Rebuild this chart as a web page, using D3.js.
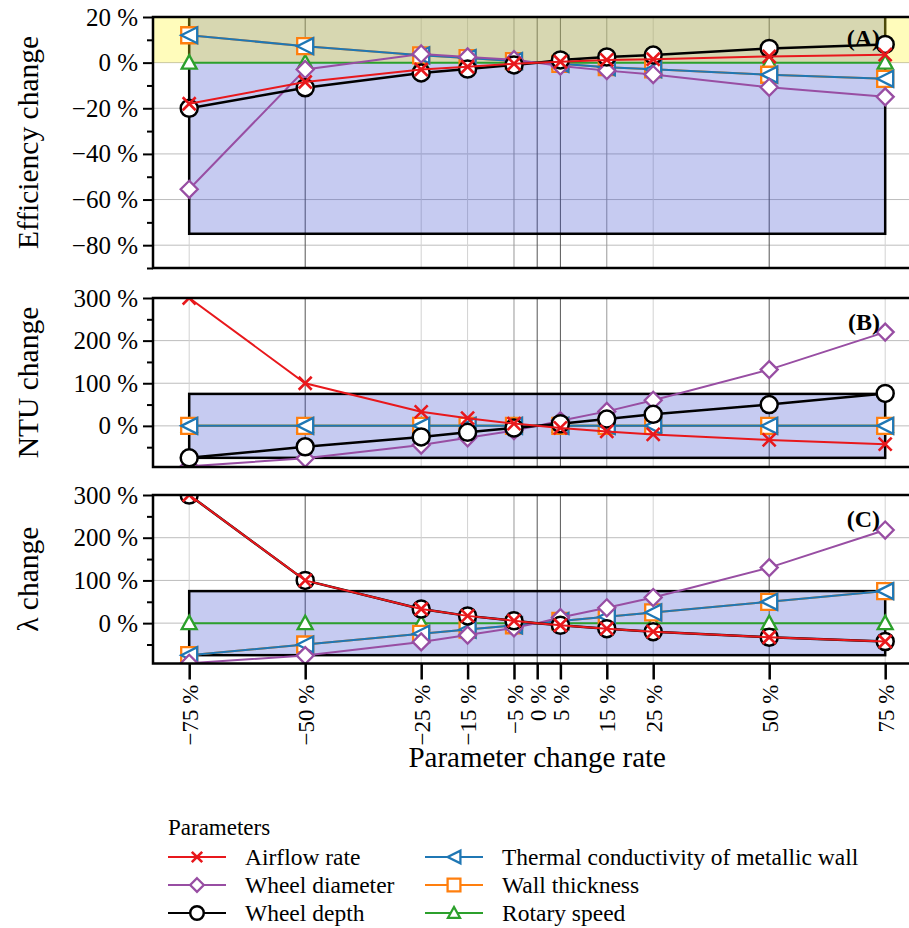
<!DOCTYPE html>
<html>
<head>
<meta charset="utf-8">
<script src="https://cdn.jsdelivr.net/npm/d3@7"></script>
<style>
  body { margin: 0; background: #fff; }
  text { font-family: "Liberation Serif", "DejaVu Serif", serif; fill: #000; }
</style>
</head>
<body>
<svg width="909" height="928"></svg>
<script>
// parameter change rate (%), x positions of all points
const rates = [-75, -50, -25, -15, -5, 0, 5, 15, 25, 50, 75];
const tickRates = [-75, -50, -25, -15, -5, 0, 5, 15, 25, 50, 75];

const seriesNames = ['Airflow rate', 'Wheel diameter', 'Wheel depth',
    'Thermal conductivity of metallic wall', 'Wall thickness', 'Rotary speed'];

// (A) efficiency change, %
const effAirflow  = [-18, -8.5, -3, -1.8, -0.5, 0, 0.4, 1.2, 1.5, 2.7, 3.5];
const effDiameter = [-55.5, -3, 3.8, 2.5, 1.3, 0, -1.5, -3.5, -5.2, -10.8, -15];
const effDepth    = [-20, -11, -4.5, -2.8, -1, 0, 1.2, 2.5, 3.3, 6.2, 8];
const effThermal  = [12, 7.2, 3.2, 2, 0.7, 0, -0.5, -2, -2.9, -5.3, -7.1];
const effWall     = [12, 7.2, 3.2, 2, 0.7, 0, -0.5, -2, -2.9, -5.3, -7.1];
const effRotary   = [0, 0, 0, 0, 0, 0, 0, 0, 0, 0, 0];

// (B) NTU change, %
const ntuAirflow  = [300, 100, 33, 18, 5.3, 0, -4.8, -13, -20, -33, -43];
const ntuDiameter = [-95, -76, -45, -28, -11, 0, 12, 34, 60, 132, 220];
const ntuDepth    = [-75, -49, -26, -15, -5, 0, 5, 16, 27, 50, 76];
const ntuThermal  = [0, 0, 0, 0, 0, 0, 0, 0, 0, 0, 0];
const ntuWall     = [0, 0, 0, 0, 0, 0, 0, 0, 0, 0, 0];
const ntuRotary   = [0, 0, 0, 0, 0, 0, 0, 0, 0, 0, 0];

// (C) lambda change, %
const lamAirflow  = [300, 100, 33, 17, 5.5, 0, -5, -13, -20, -33, -43];
const lamDiameter = [-94, -76, -44, -28, -11, 0, 13, 36, 60, 130, 218];
const lamDepth    = [300, 100, 33, 17, 5.5, 0, -5, -13, -20, -33, -43];
const lamThermal  = [-75, -50, -25, -15, -5, 0, 5, 15, 25, 50, 75];
const lamWall     = [-75, -50, -25, -15, -5, 0, 5, 15, 25, 50, 75];
const lamRotary   = [0, 0, 0, 0, 0, 0, 0, 0, 0, 0, 0];

const effTicks = [-80, -60, -40, -20, 0, 20];
const effMinor = [-90, -70, -50, -30, -10, 10];
const bigTicks = [0, 100, 200, 300];
const bigMinor = [-50, 50, 150, 250];

const styles = {
    'Airflow rate': { color: '#e8181c', marker: 'x' },
    'Wheel diameter': { color: '#984ea3', marker: 'diamond' },
    'Wheel depth': { color: '#000', marker: 'circle' },
    'Thermal conductivity of metallic wall': { color: '#1f77b4', marker: 'left' },
    'Wall thickness': { color: '#ff7f0e', marker: 'square' },
    'Rotary speed': { color: '#2ca02c', marker: 'up' }
};
// back to front
const drawOrder = ['Rotary speed', 'Wall thickness', 'Thermal conductivity of metallic wall',
    'Wheel diameter', 'Wheel depth', 'Airflow rate'];

const panels = [
    { tag: '(A)', label: 'Efficiency change', top: 17, bottom: 268, domain: [-90, 20],
      ticks: effTicks, minor: effMinor, yellow: true,
      values: [effAirflow, effDiameter, effDepth, effThermal, effWall, effRotary] },
    { tag: '(B)', label: 'NTU change', top: 298, bottom: 467, domain: [-96.5, 300],
      ticks: bigTicks, minor: bigMinor, yellow: false,
      values: [ntuAirflow, ntuDiameter, ntuDepth, ntuThermal, ntuWall, ntuRotary] },
    { tag: '(C)', label: 'λ change', top: 495, bottom: 663.5, domain: [-94.5, 300],
      ticks: bigTicks, minor: bigMinor, yellow: false,
      values: [lamAirflow, lamDiameter, lamDepth, lamThermal, lamWall, lamRotary] }
];

const svg = d3.select('svg');
const left = 153;
const xScale = d3.scaleLinear().domain([-82.8, 82.8]).range([left, left + 165.6 * 4.64]);
const right = xScale.range()[1];

const fmt = v => (v < 0 ? '\u2212' + Math.abs(v) : v) + ' %';

const gridTone = v => [-50, 0, 5, 50].includes(v) ? '#555' : ([-5, 15].includes(v) ? '#999' : '#d2d2d2');

const markerPath = (type, s) => {
    switch (type) {
        case 'x': return `M${-s},${-s}L${s},${s}M${-s},${s}L${s},${-s}`;
        case 'diamond': return `M0,${-s}L${s},0L0,${s}L${-s},0Z`;
        case 'left': return `M${-s},0L${s},${-s}L${s},${s}Z`;
        case 'square': return `M${-s},${-s}H${s}V${s}H${-s}Z`;
        case 'up': return `M0,${-s}L${s},${s * 0.8}L${-s},${s * 0.8}Z`;
    }
};

const drawMarker = (g, type, color, k) => {
    if (type === 'circle') {
        g.append('circle').attr('r', 8.5 * k).attr('fill', '#fff')
            .attr('stroke', color).attr('stroke-width', 2.5);
        return;
    }
    const size = { x: 6.5, diamond: 8.5, left: 8, square: 8, up: 7.5 }[type] * k;
    g.append('path').attr('d', markerPath(type, size))
        .attr('fill', type === 'x' ? 'none' : '#fff')
        .attr('stroke', color)
        .attr('stroke-width', type === 'x' ? 2.6 : 2.3);
};

panels.forEach((p, i) => {
    const yScale = d3.scaleLinear().domain(p.domain).range([p.bottom, p.top]);
    const g = svg.append('g');

    g.append('clipPath').attr('id', 'clip' + i)
        .append('rect').attr('x', left).attr('y', p.top)
        .attr('width', right - left).attr('height', p.bottom - p.top);
    const plot = g.append('g').attr('clip-path', `url(#clip${i})`);

    // grid
    plot.selectAll('.hgrid').data(p.ticks).enter().append('line')
        .attr('x1', left).attr('x2', right)
        .attr('y1', d => yScale(d)).attr('y2', d => yScale(d))
        .attr('stroke', '#bdbdbd').attr('stroke-width', 1);
    plot.selectAll('.vgrid').data(tickRates).enter().append('line')
        .attr('x1', d => xScale(d)).attr('x2', d => xScale(d))
        .attr('y1', p.top).attr('y2', p.bottom)
        .attr('stroke', d => gridTone(d)).attr('stroke-width', 1);

    // +-75 % box
    plot.append('rect')
        .attr('x', xScale(-75)).attr('y', yScale(75))
        .attr('width', xScale(75) - xScale(-75)).attr('height', yScale(-75) - yScale(75))
        .attr('fill', 'rgb(50,70,205)').attr('fill-opacity', 0.28)
        .attr('stroke', '#000').attr('stroke-width', 2.5);

    if (p.yellow) {
        plot.append('rect')
            .attr('x', left).attr('y', p.top)
            .attr('width', right - left).attr('height', yScale(0) - p.top)
            .attr('fill', 'rgb(255,245,30)').attr('fill-opacity', 0.3);
    }

    const line = d3.line().x(d => xScale(d[0])).y(d => yScale(d[1]));
    drawOrder.forEach(name => {
        const vals = p.values[seriesNames.indexOf(name)];
        const st = styles[name];
        const pts = rates.map((r, j) => [r, vals[j]]);
        plot.append('path').datum(pts).attr('d', line)
            .attr('fill', 'none').attr('stroke', st.color)
            .attr('stroke-width', name === 'Wheel depth' ? 2.5 : 2);
        pts.filter(d => d[0] !== 0).forEach(d => {
            const m = plot.append('g')
                .attr('transform', `translate(${xScale(d[0])},${yScale(d[1])})`);
            drawMarker(m, st.marker, st.color, 1);
        });
    });

    // frame
    g.append('rect').attr('x', left).attr('y', p.top)
        .attr('width', right - left).attr('height', p.bottom - p.top)
        .attr('fill', 'none').attr('stroke', '#000').attr('stroke-width', 2.5);

    // y axis
    const yAxis = g.append('g').attr('transform', `translate(${left},0)`)
        .call(d3.axisLeft(yScale).tickValues(p.ticks).tickFormat(fmt).tickSize(10).tickPadding(5));
    yAxis.select('.domain').remove();
    yAxis.selectAll('.tick line').attr('stroke-width', 2);
    yAxis.selectAll('.tick text').attr('font-size', 25);
    const yMinor = g.append('g').attr('transform', `translate(${left},0)`)
        .call(d3.axisLeft(yScale).tickValues(p.minor).tickFormat('').tickSize(6));
    yMinor.select('.domain').remove();
    yMinor.selectAll('.tick line').attr('stroke-width', 2);

    g.append('text')
        .attr('transform', `translate(38,${(p.top + p.bottom) / 2}) rotate(-90)`)
        .attr('text-anchor', 'middle').attr('font-size', 29.5)
        .text(p.label);

    g.append('text').attr('x', 880).attr('y', p.top + (i === 0 ? 29 : 32))
        .attr('text-anchor', 'end').attr('font-size', 24).attr('font-weight', 'bold')
        .text(p.tag);

    if (i === panels.length - 1) {
        const xAxis = g.append('g').attr('transform', `translate(0,${p.bottom})`)
            .call(d3.axisBottom(xScale).tickValues(tickRates).tickFormat(fmt).tickSize(16).tickPadding(5));
        xAxis.select('.domain').remove();
        xAxis.selectAll('.tick line').attr('stroke-width', 2.5);
        xAxis.selectAll('.tick text')
            .attr('font-size', 23)
            .attr('transform', 'rotate(-90)')
            .attr('text-anchor', 'end')
            .attr('x', -21).attr('y', 0).attr('dy', '0.35em');
    }
});

svg.append('text').attr('x', xScale(0)).attr('y', 767)
    .attr('text-anchor', 'middle').attr('font-size', 29)
    .text('Parameter change rate');

// legend
const legend = svg.append('g');
legend.append('text').attr('x', 168).attr('y', 835).attr('font-size', 23).text('Parameters');
seriesNames.forEach((name, k) => {
    const col = Math.floor(k / 3), row = k % 3;
    const x0 = col === 0 ? 168 : 425;
    const y0 = 857 + row * 28;
    const st = styles[name];
    const item = legend.append('g');
    item.append('line').attr('x1', x0).attr('x2', x0 + 58).attr('y1', y0).attr('y2', y0)
        .attr('stroke', st.color).attr('stroke-width', 2.2);
    drawMarker(item.append('g').attr('transform', `translate(${x0 + 29},${y0})`), st.marker, st.color, 0.8);
    item.append('text').attr('x', x0 + 77).attr('y', y0 + 8).attr('font-size', 23.5).text(name);
});
</script>
</body>
</html>
